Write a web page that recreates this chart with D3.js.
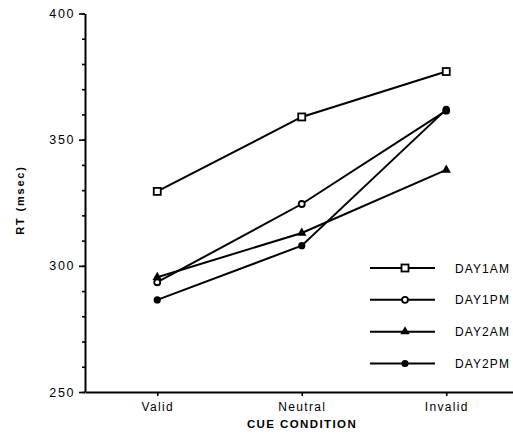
<!DOCTYPE html>
<html><head><meta charset="utf-8">
<script src="https://cdn.jsdelivr.net/npm/d3@7"></script>
<style>
html,body{margin:0;padding:0;background:#fff;}
svg{display:block;}
text{font-family:"Liberation Sans",Arial,Helvetica,sans-serif;fill:#000;}
</style></head>
<body>
<svg id="chart" width="513" height="443"></svg>
<script>
const categories = ["Valid", "Neutral", "Invalid"];
const seriesNames = ["DAY1AM", "DAY1PM", "DAY2AM", "DAY2PM"];
const day1am = [329.5, 359, 377];
const day1pm = [293.5, 324.5, 361.5];
const day2am = [295.5, 313, 338];
const day2pm = [286.5, 308, 362];
const yTicks = [250, 300, 350, 400];
const yMinorTicks = d3.range(250, 401, 10);
const xTitle = "CUE CONDITION";
const yTitle = "RT (msec)";

const seriesValues = [day1am, day1pm, day2am, day2pm];
const markers = ["square", "circle", "triangle", "dot"];

const svg = d3.select("#chart");
const x = d3.scalePoint().domain(categories).range([85, 518.5]).padding(0.5);
const y = d3.scaleLinear().domain([250, 400]).range([392, 13.5]);

// y axis
const gy = svg.append("g").attr("transform", "translate(85,0)");
gy.call(d3.axisLeft(y).tickValues(yMinorTicks).tickSize(3).tickFormat(""));
gy.call(g => g.select(".domain").remove());
const gyMaj = svg.append("g").attr("transform", "translate(85,0)")
  .call(d3.axisLeft(y).tickValues(yTicks).tickSize(6).tickSizeOuter(0).tickPadding(6));
svg.selectAll("g .tick line").attr("stroke", "#000").attr("stroke-width", 1.6);
gyMaj.select(".domain").attr("stroke", "#000").attr("stroke-width", 2);
gyMaj.selectAll(".tick text").attr("font-size", 12.5).attr("letter-spacing", 1.6)
  .attr("font-family", '"Liberation Sans",Arial,sans-serif').attr("dx", 2);

// x axis
const gx = svg.append("g").attr("transform", "translate(0,392)")
  .call(d3.axisBottom(x).tickSize(4).tickSizeOuter(0).tickPadding(6));
gx.select(".domain").attr("stroke", "#000").attr("stroke-width", 2);
gx.selectAll(".tick line").attr("stroke", "#000").attr("stroke-width", 1.6);
gx.selectAll(".tick text").attr("font-size", 12).attr("letter-spacing", 1.3)
  .attr("font-family", '"Liberation Sans",Arial,sans-serif');

// titles
svg.append("text").attr("x", 302).attr("y", 428).attr("text-anchor", "middle")
  .attr("font-size", 11.5).attr("font-weight", "bold").attr("letter-spacing", 1.4).text(xTitle);
svg.append("text").attr("transform", "translate(24,200) rotate(-90)").attr("text-anchor", "middle")
  .attr("font-size", 11).attr("font-weight", "bold").attr("letter-spacing", 1.8).text(yTitle);

function drawMarker(g, type, cx, cy) {
  if (type === "square") {
    g.append("rect").attr("x", cx - 3.5).attr("y", cy - 3.5).attr("width", 7).attr("height", 7)
      .attr("fill", "#fff").attr("stroke", "#000").attr("stroke-width", 1.8);
  } else if (type === "circle") {
    g.append("circle").attr("cx", cx).attr("cy", cy).attr("r", 3)
      .attr("fill", "#fff").attr("stroke", "#000").attr("stroke-width", 1.8);
  } else if (type === "triangle") {
    g.append("path").attr("d", d3.symbol(d3.symbolTriangle, 38)())
      .attr("transform", `translate(${cx},${cy})`).attr("fill", "#000");
  } else {
    g.append("circle").attr("cx", cx).attr("cy", cy).attr("r", 3.6).attr("fill", "#000");
  }
}

const line = d3.line().x((d, i) => x(categories[i])).y(d => y(d));
const plot = svg.append("g");
seriesValues.forEach((vals, si) => {
  plot.append("path").attr("d", line(vals)).attr("fill", "none")
    .attr("stroke", "#000").attr("stroke-width", 2);
});
seriesValues.forEach((vals, si) => {
  vals.forEach((v, i) => drawMarker(plot, markers[si], x(categories[i]), y(v)));
});

// legend
const legendY = d3.scalePoint().domain(seriesNames).range([268, 363.5]);
const lg = svg.append("g");
seriesNames.forEach((name, si) => {
  const ly = legendY(name);
  lg.append("line").attr("x1", 370).attr("x2", 435).attr("y1", ly).attr("y2", ly)
    .attr("stroke", "#000").attr("stroke-width", 2);
  drawMarker(lg, markers[si], 405, ly);
  lg.append("text").attr("x", 455).attr("y", ly + 4.5).attr("font-size", 12)
    .attr("letter-spacing", 1.1).text(name);
});
</script>
</body></html>
